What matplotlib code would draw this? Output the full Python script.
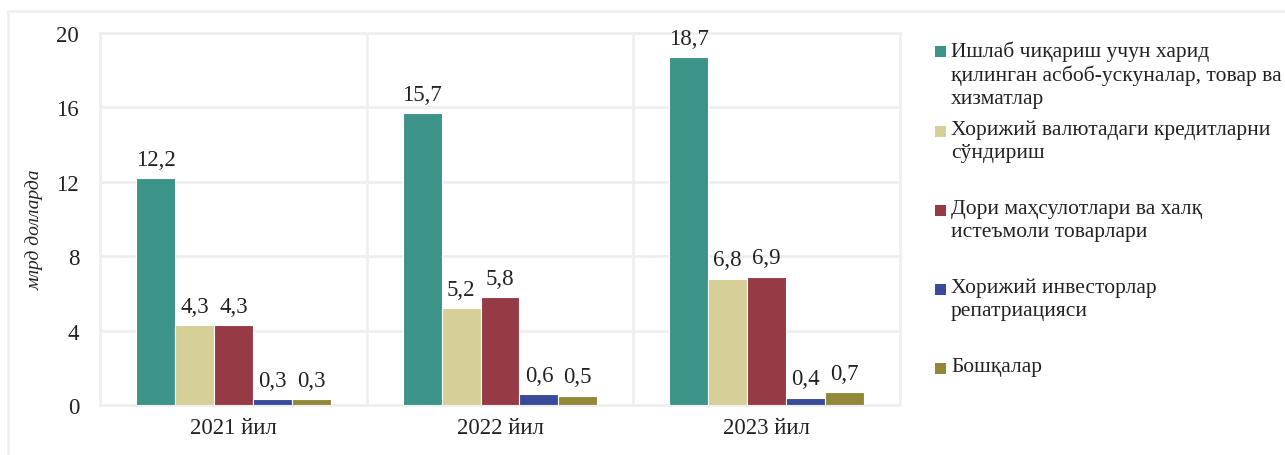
import matplotlib
matplotlib.use("Agg")
import matplotlib.pyplot as plt
import numpy as np
from matplotlib.lines import Line2D
from matplotlib.patches import Rectangle

years = ["2021 йил", "2022 йил", "2023 йил"]
series_names = [
    "Ишлаб чиқариш учун харид\nқилинган асбоб-ускуналар, товар ва\nхизматлар",
    "Хорижий валютадаги кредитларни\nсўндириш",
    "Дори маҳсулотлари ва халқ\nистеъмоли товарлари",
    "Хорижий инвесторлар\nрепатриацияси",
    "Бошқалар",
]
equipment = [12.2, 15.7, 18.7]
credits = [4.3, 5.2, 6.8]
medicine = [4.3, 5.8, 6.9]
repatriation = [0.3, 0.6, 0.4]
other = [0.3, 0.5, 0.7]
series = [equipment, credits, medicine, repatriation, other]
colors = ["#3C9387", "#D6CF98", "#963A45", "#3A4A9A", "#93883A"]
yticks = [0, 4, 8, 12, 16, 20]

plt.rcParams['font.family'] = ['Liberation Serif', 'DejaVu Serif']

fig = plt.figure(figsize=(12.85, 4.56), dpi=100)
ax = fig.add_axes([100/1285, 1-406/456, 800/1285, 372/456])

x = np.arange(len(years))
w = 0.146
for i, (vals, c) in enumerate(zip(series, colors)):
    offs = (i - 2) * w
    bars = ax.bar(x + offs, vals, width=w, color=c, edgecolor='white', linewidth=0.8, zorder=3)
    for b, v in zip(bars, vals):
        ax.annotate(f"{v:.1f}".replace('.', ','), (b.get_x() + b.get_width()/2, b.get_height()),
                    xytext=(0, 6), textcoords='offset points', ha='center', va='bottom',
                    fontsize=16.5, color='#222222')

ax.set_xlim(-0.5, 2.5)
ax.set_ylim(0, 20)
ax.set_yticks(yticks)
ax.set_yticklabels([str(t) for t in yticks], fontsize=16.5, color='#222222')
ax.set_xticks(x)
ax.set_xticklabels(years, fontsize=16.5, color='#222222')
ax.set_xticks([0.5, 1.5], minor=True)
ax.tick_params(axis='both', which='both', length=0)
ax.tick_params(axis='y', pad=15)
ax.tick_params(axis='x', pad=9)
ax.grid(axis='y', which='major', color='#EFEFF1', linewidth=2, zorder=0)
ax.grid(axis='x', which='minor', color='#EFEFF1', linewidth=2, zorder=0)
for s in ax.spines.values():
    s.set_color('#EFEFF1')
    s.set_linewidth(2)

fig.text(35/1285, 1-230/456, "млрд долларда", rotation=90, fontsize=14, style='italic',
         ha='center', va='center', color='#222222')

# legend placed manually
starts = [53, 133, 212, 291, 370]
for name, c, yy in zip(series_names, colors, starts):
    fig.add_artist(Rectangle((935/1285, 1-(yy+5)/456), 11/1285, 11/456, transform=fig.transFigure,
                             facecolor=c, edgecolor='none'))
    fig.text(951/1285, 1-(yy-12)/456, name, fontsize=15.5, ha='left', va='top',
             color='#222222', linespacing=1.27)

# outer frame
fig.add_artist(Line2D([8/1285, 1], [1-12/456, 1-12/456], transform=fig.transFigure, color='#EFEFF1', lw=2))
fig.add_artist(Line2D([8/1285, 8/1285], [0, 1-12/456], transform=fig.transFigure, color='#EFEFF1', lw=2))

fig.savefig("out.png", dpi=100)
